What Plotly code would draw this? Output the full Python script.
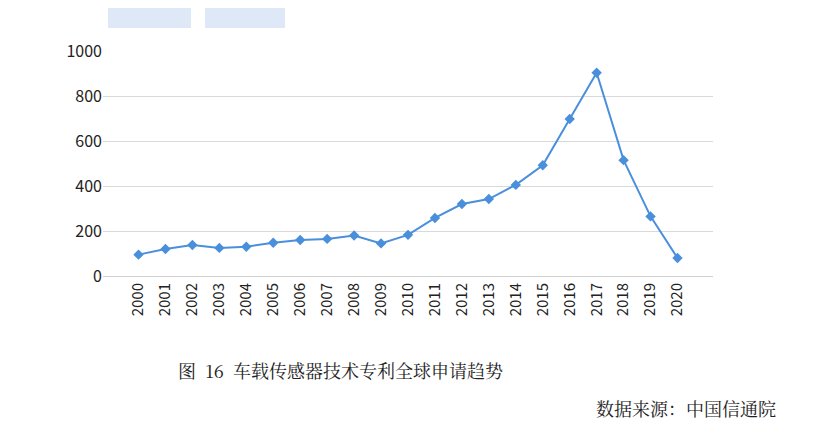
import plotly.graph_objects as go

years = [str(y) for y in range(2000, 2021)]
values = [95, 120, 138, 125, 130, 148, 160, 165, 180, 145, 183, 258, 320, 342, 405, 492, 698, 903, 515, 265, 80]
title_text = "图  16  车载传感器技术专利全球申请趋势"
source_text = "数据来源：中国信通院"

fig = go.Figure(go.Scatter(
    x=years, y=values, mode="lines+markers",
    line=dict(color="#4a8fdc", width=2),
    marker=dict(symbol="diamond", size=8, color="#4a8fdc"),
))
L, R, T, B = 95, 108, 43, 157
H = 425 - T - B
def py(p):
    return 1 + (T - p) / H
def px(p):
    return (p - L) / (813 - L - R)
fig.update_layout(
    width=813, height=425, margin=dict(l=L, r=R, t=T, b=B, autoexpand=False),
    paper_bgcolor="white", plot_bgcolor="white", showlegend=False,
    font=dict(family="Noto Sans CJK SC", color="#333", size=14),
    xaxis=dict(type="category", tickangle=-90, showgrid=False, showline=True, automargin=False,
               linecolor="#d0d0d0", tickfont=dict(size=15, color="#222"), ticks=""),
    yaxis=dict(range=[0, 1000], dtick=200, gridcolor="#d9d9d9", showline=False, automargin=False,
               zeroline=False, tickfont=dict(size=16, color="#222")),
    shapes=[
        dict(type="rect", xref="paper", yref="paper", x0=px(100), x1=px(183), y0=py(20), y1=py(0),
             fillcolor="#dfe8f7", line_width=0, layer="below"),
        dict(type="rect", xref="paper", yref="paper", x0=px(197), x1=px(277), y0=py(20), y1=py(0),
             fillcolor="#dfe8f7", line_width=0, layer="below"),
    ],
    annotations=[
        dict(text=title_text, xref="paper", yref="paper", x=px(168), y=py(362), xanchor="left",
             yanchor="middle", showarrow=False, font=dict(size=18, color="#222", family="Noto Serif CJK SC, Noto Sans CJK SC")),
        dict(text=source_text, xref="paper", yref="paper", x=px(770), y=py(400), xanchor="right",
             yanchor="middle", showarrow=False, font=dict(size=18, color="#222", family="Noto Serif CJK SC, Noto Sans CJK SC")),
    ],
)
fig.write_html("out.html")
